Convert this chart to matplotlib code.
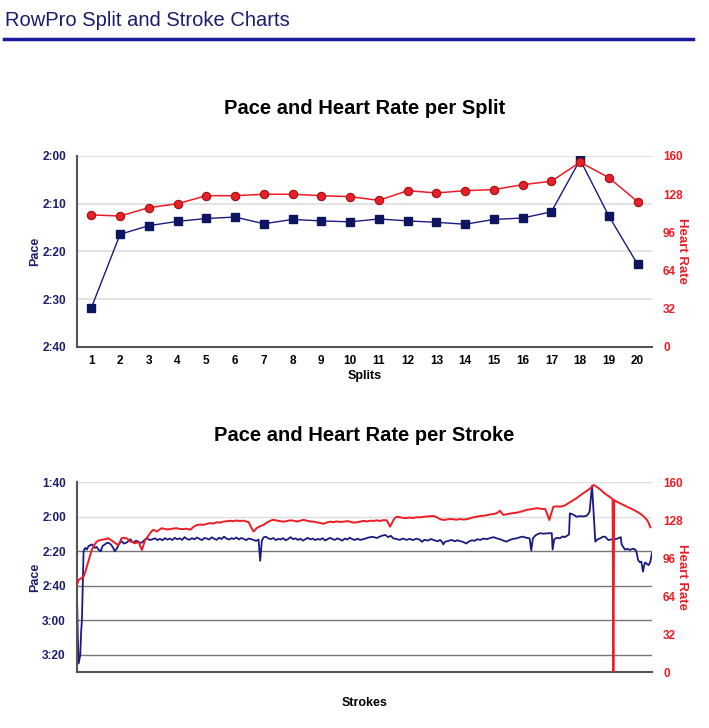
import matplotlib
matplotlib.use("Agg")
import matplotlib.pyplot as plt
from matplotlib.ticker import FuncFormatter

plt.rcParams['font.family'] = ['Liberation Sans', 'DejaVu Sans']

NAVY = '#1c1c6e'
BLUE = '#1a1a80'
RED = '#ee1c24'

# ---- per split data (pace in seconds / 500m, heart rate in bpm) ----
splits = list(range(1, 21))
split_pace = [151.8, 136.4, 134.6, 133.7, 133.1, 132.8, 134.2, 133.3, 133.6, 133.8,
              133.2, 133.6, 133.9, 134.3, 133.3, 133.0, 131.7, 120.8, 132.6, 142.7]
split_hr = [110.6, 109.7, 116.7, 120.0, 126.7, 126.7, 127.9, 127.9, 126.7, 125.9,
            122.8, 130.9, 129.0, 130.9, 131.8, 135.9, 138.8, 154.7, 141.8, 121.7]

# ---- per stroke data ----
pace_strokes = [0, 1, 2, 4, 5, 6, 8, 10, 12, 14, 16, 18, 20, 22, 24, 26, 29, 31, 34, 37,
                40, 42, 44, 46, 49, 51, 54, 57, 60, 63, 65, 67, 69, 71, 73, 76, 79, 82, 85, 89,
                92, 95, 98, 101, 104, 107, 110, 113, 116, 119, 122, 125, 128, 131, 134, 137, 140, 143, 146, 149,
                152, 155, 158, 161, 164, 167, 170, 173, 176, 179, 182, 185, 188, 191, 194, 197, 200, 203, 206, 209,
                212, 215, 218, 221, 223, 225, 227, 230, 233, 236, 239, 242, 245, 248, 251, 254, 257, 260, 263, 266,
                269, 272, 275, 278, 281, 284, 287, 290, 293, 296, 299, 302, 305, 308, 311, 314, 317, 320, 323, 326,
                329, 332, 335, 338, 341, 345, 350, 355, 360, 365, 370, 375, 379, 382, 385, 389, 393, 397, 401, 405,
                409, 413, 417, 420, 423, 427, 431, 435, 439, 442, 444, 446, 448, 452, 456, 460, 463, 466, 470, 474,
                477, 481, 484, 487, 491, 495, 499, 503, 507, 511, 515, 519, 523, 527, 531, 535, 539, 543, 547, 551,
                553, 555, 558, 561, 564, 568, 572, 576, 578, 579, 581, 584, 588, 591, 594, 598, 599, 600, 603, 606,
                608, 612, 616, 620, 622, 624, 627, 629, 631, 634, 637, 640, 643, 645, 647, 650, 653, 655, 658, 661,
                662, 663, 665, 667, 670, 673, 677, 679, 681, 683, 685, 687, 689, 691, 692, 694, 696, 698, 700]
pace_values = [166, 190, 205, 200, 187, 180, 140, 138, 139, 137, 136.5, 136, 137, 138, 137.5, 139, 140, 137, 136, 135,
               135.5, 136.5, 138, 140, 138, 136, 134, 135.5, 135, 134, 133, 134.5, 135, 134, 134, 135, 135, 133.5, 132.5, 133.5,
               133, 132.5, 133.5, 132.8, 133.6, 132.4, 133.2, 132.6, 133.5, 132.2, 133.0, 132.5, 133.4, 131.8, 132.9, 133.3, 132.4, 133.1, 132.0, 132.8,
               133.5, 132.3, 132.6, 133.2, 131.9, 132.7, 133.4, 132.1, 132.9, 131.5, 132.6, 133.2, 132.4, 132.9, 132.0, 133.1, 132.3, 132.8, 133.5, 132.6,
               133.0, 133.4, 134.0, 133.2, 145.5, 134, 132, 131.5, 132.6, 132.9, 132.3, 133.5, 132.8, 133.2, 132.4, 133.6, 132.9, 131.8, 133.0, 132.5,
               133.4, 132.7, 133.8, 133.0, 132.2, 133.1, 132.6, 133.5, 132.8, 133.3, 132.4, 133.7, 133.0, 132.2, 132.9, 133.4, 132.5, 133.1, 133.8, 132.6,
               133.2, 132.1, 132.9, 133.5, 132.7, 133.4, 132.8, 132.0, 131.6, 132.3, 131.2, 130.5, 131.8, 131.0, 132.5, 132.9, 133.4, 132.6, 133.4, 132.8,
               133.5, 132.7, 133.2, 134.5, 133.3, 133.8, 132.9, 133.6, 134.2, 133.4, 134.4, 136, 134.5, 134.0, 133.4, 134.2, 133.6, 134, 134.6, 135.5,
               134.3, 133.6, 134.0, 133, 133.4, 132.6, 133.0, 132.3, 131.8, 132.5, 133.0, 133.8, 134.4, 133.4, 132.8, 132.5, 131.9, 131.5, 132.2, 132.5,
               139.5, 132.5, 130.8, 130.0, 129.5, 129.8, 129.6, 129.5, 129.5, 139, 133, 132.2, 132.5, 131.4, 131.8, 130.5, 130.2, 118, 118.5, 119.2,
               120, 119.6, 119.8, 119.5, 118.6, 117, 102, 118, 134.4, 133.0, 132.5, 131.6, 131.5, 132.6, 133.5, 133.2, 132.8, 133, 132.6, 132,
               131.8, 136, 137.5, 139, 138.6, 139.2, 138.5, 138.8, 140, 145, 146.3, 146, 151.8, 147.0, 146.5, 147.5, 148, 146, 141]

hr_strokes = [0, 2, 5, 8, 10, 12, 15, 18, 21, 24, 27, 30, 34, 38, 41, 44, 47, 50, 52, 54,
              57, 60, 63, 65, 68, 71, 73, 75, 77, 79, 81, 83, 86, 89, 91, 93, 95, 97, 100, 103,
              106, 110, 113, 117, 121, 125, 129, 133, 138, 142, 146, 150, 154, 158, 162, 166, 170, 174, 178, 182,
              186, 190, 194, 198, 203, 206, 209, 212, 215, 217, 219, 223, 227, 231, 235, 239, 243, 247, 252, 256,
              260, 264, 268, 272, 276, 280, 284, 288, 292, 296, 300, 304, 308, 312, 316, 320, 325, 329, 333, 337,
              341, 345, 349, 353, 357, 361, 365, 369, 373, 377, 379, 381, 383, 386, 389, 393, 397, 401, 405, 409,
              414, 418, 422, 426, 430, 434, 438, 442, 446, 450, 454, 458, 462, 466, 470, 474, 478, 482, 487, 491,
              495, 499, 503, 507, 511, 513, 515, 517, 519, 523, 527, 531, 535, 539, 543, 547, 551, 555, 560, 564,
              567, 570, 572, 575, 577, 580, 584, 588, 592, 595, 598, 601, 604, 608, 612, 616, 620, 625, 627, 629,
              633, 637, 641, 645, 649, 652, 653, 654, 657, 661, 665, 669, 673, 677, 681, 685, 689, 694, 696, 698]
hr_values = [73.5, 77.7, 79, 80.5, 84, 89, 96, 103, 107, 110, 111, 111.5, 112, 112.8, 111.5, 110, 108.5, 107.2, 109, 112.8,
             113.2, 112.8, 111.5, 110, 109.5, 108.5, 109.2, 110, 106, 103, 107, 111.5, 114, 117, 118.8, 120, 119.2, 118.5, 119.8, 121.3,
             120.8, 120.2, 120.5, 121.0, 121.3, 120.6, 120.5, 120.9, 120, 122.5, 124, 124.4, 124.1, 124.9, 125.6, 125.2, 126.3, 126.0, 126.8, 127.1,
             127.6, 127.2, 127.8, 127.4, 127.6, 127.0, 126.3, 122, 118.5, 120, 121.5, 123, 124, 126, 127.5, 128.4, 127.8, 127.2, 126.8, 127.4,
             127.9, 127.6, 126.9, 127.7, 128.4, 127.5, 127.0, 126.8, 126.2, 125.7, 125, 126.0, 126.8, 126.4, 127.0, 126.6, 126.8, 127.3, 126.7, 126.0,
             126.3, 126.9, 127.5, 127.0, 127.6, 127.5, 127.9, 127.4, 128.1, 128, 125.5, 122.6, 125, 129, 131, 130.6, 130.0, 129.8, 130.3, 129.9,
             130.6, 130.4, 130.9, 131.2, 131.4, 131.6, 130.5, 129.0, 128.2, 128.6, 129.1, 128.8, 128.4, 129.0, 128.6, 128.8, 129.5, 130.4, 131, 131.6,
             131.8, 132.3, 132.9, 133.3, 133.9, 135, 136, 134, 132.5, 133.0, 133.6, 134.0, 134.4, 135.0, 135.8, 136.7, 137.1, 137.6, 138.2, 137.8,
             137.4, 137.5, 134, 128.2, 133, 139.4, 139.7, 139.5, 140, 140.9, 142.3, 143.5, 144.8, 146.5, 148.6, 150.7, 152.5, 155, 156.5, 157.8,
             156, 154, 151.5, 149.3, 147.5, 145.7, 0, 145, 143.7, 142.3, 140.9, 139.6, 138.3, 137, 135.5, 133.9, 131.8, 128.2, 125.5, 122.1]

pace_ticks_split = [120, 130, 140, 150, 160]
pace_ticks_stroke = [100, 120, 140, 160, 180, 200]
hr_ticks = [0, 32, 64, 96, 128, 160]


def mmss(v, pos=None):
    v = int(round(v))
    return "%d:%02d" % (v // 60, v % 60)


def style_axes(ax, ax2):
    for side in ['top', 'right']:
        ax.spines[side].set_visible(False)
    for side in ['top', 'right', 'left', 'bottom']:
        ax2.spines[side].set_visible(False)
    ax.spines['left'].set_color('#555555')
    ax.spines['bottom'].set_color('#555555')
    ax.spines['left'].set_linewidth(1.5)
    ax.spines['bottom'].set_linewidth(1.5)
    ax.yaxis.set_major_formatter(FuncFormatter(mmss))
    ax.tick_params(axis='y', length=0, pad=8, labelsize=8.5, labelcolor=NAVY)
    for lab in ax.get_yticklabels():
        lab.set_fontweight('bold')
    ax2.set_ylim(0, 160)
    ax2.set_yticks(hr_ticks)
    ax2.tick_params(axis='y', length=0, pad=8, labelsize=8.5, labelcolor=RED)
    for lab in ax2.get_yticklabels():
        lab.set_fontweight('bold')
    ax.set_ylabel('Pace', color=NAVY, fontsize=9, fontweight='bold', labelpad=1)
    ax2.set_ylabel('Heart Rate', color=RED, fontsize=9.5, fontweight='bold', rotation=270, labelpad=4)


fig = plt.figure(figsize=(7.09, 7.28), dpi=100)

# page header
fig.text(0.007, 0.964, 'RowPro Split and Stroke Charts', fontsize=14.5, color=NAVY, va='baseline')
fig.add_artist(plt.Line2D([0.006, 0.978], [0.946, 0.946], color='#1a1a9a', linewidth=2.5))

# ---- split chart ----
ax = fig.add_axes([0.1086, 0.5234, 0.811, 0.2624])
ax.plot(splits, split_pace, color=BLUE, linewidth=1, marker='s', markersize=6,
        markerfacecolor='#0d1560', markeredgecolor='#0d1560', zorder=3)
ax.set_ylim(160, 120)
ax.set_yticks(pace_ticks_split)
ax.set_xlim(0.5, 20.5)
ax.set_xticks(splits)
ax.tick_params(axis='x', length=0, pad=6, labelsize=8.5)
for lab in ax.get_xticklabels():
    lab.set_fontweight('bold')
ax.grid(axis='y', color='#dddddd', linewidth=1.2)
ax.set_axisbelow(True)
ax.set_xlabel('Splits', fontsize=9, fontweight='bold', labelpad=2)
ax.set_title('Pace and Heart Rate per Split', fontsize=14.5, fontweight='bold', pad=30)
ax2 = ax.twinx()
ax2.plot(splits, split_hr, color=RED, linewidth=1.1, marker='o', markersize=6,
         markerfacecolor='#e8202a', markeredgecolor='#a01010', markeredgewidth=0.8)
style_axes(ax, ax2)

# ---- stroke chart ----
bx = fig.add_axes([0.1086, 0.0769, 0.811, 0.2606])
bx.plot(pace_strokes, pace_values, color=BLUE, linewidth=1.3)
bx.set_ylim(210, 100)
bx.set_yticks(pace_ticks_stroke)
bx.set_xlim(0, 700)
bx.set_xticks([])
bx.grid(axis='y', color='#888888', linewidth=1)
grid_cols = ['#dddddd', '#dddddd', '#777777', '#777777', '#777777', '#777777']
for gl, c in zip(bx.get_ygridlines(), grid_cols):
    gl.set_color(c)
bx.set_axisbelow(True)
bx.set_xlabel('Strokes', fontsize=9, fontweight='bold', labelpad=18)
bx.set_title('Pace and Heart Rate per Stroke', fontsize=14.5, fontweight='bold', pad=30)
bx2 = bx.twinx()
bx2.plot(hr_strokes, hr_values, color=RED, linewidth=1.4)
style_axes(bx, bx2)

fig.savefig('out.png', dpi=100)
